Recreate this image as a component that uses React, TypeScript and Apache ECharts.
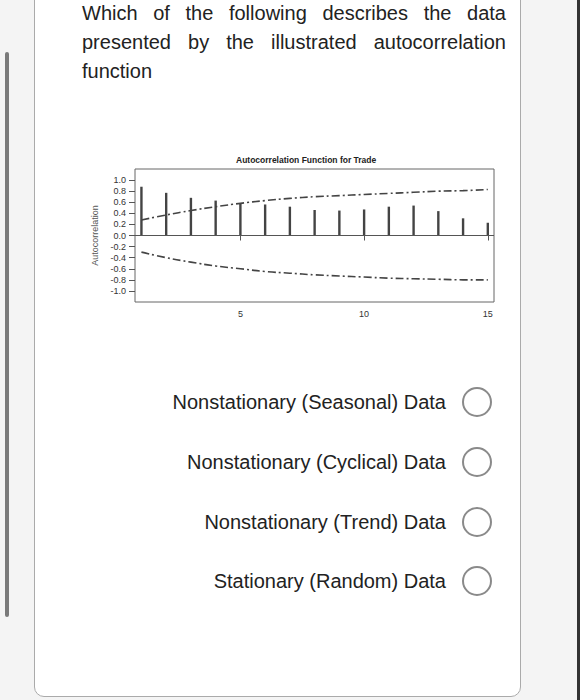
import React from 'react';
import * as echarts from 'echarts';

// lags 1..15
const lags = [1, 2, 3, 4, 5, 6, 7, 8, 9, 10, 11, 12, 13, 14, 15];
const acf = [0.88, 0.77, 0.68, 0.63, 0.58, 0.56, 0.52, 0.46, 0.45, 0.47, 0.52, 0.54, 0.44, 0.31, 0.23];
const upperLimit = [0.28, 0.37, 0.45, 0.52, 0.58, 0.63, 0.67, 0.7, 0.72, 0.74, 0.76, 0.78, 0.8, 0.81, 0.83];
const lowerLimit = [-0.3, -0.4, -0.48, -0.55, -0.6, -0.65, -0.68, -0.71, -0.73, -0.75, -0.77, -0.78, -0.79, -0.8, -0.8];
const yTicks = [-1, -0.8, -0.6, -0.4, -0.2, 0, 0.2, 0.4, 0.6, 0.8, 1];
const xTicks = [5, 10, 15];

const question = 'Which of the following describes the data presented by the illustrated autocorrelation function';
const choices = [
  'Nonstationary (Seasonal) Data',
  'Nonstationary (Cyclical) Data',
  'Nonstationary (Trend) Data',
  'Stationary (Random) Data',
];

const font = '"Liberation Sans", Arial, Helvetica, sans-serif';

const AcfChart = () => {
  const chartRef = React.useRef(null);

  React.useEffect(() => {
    const myChart = echarts.init(chartRef.current, null, { renderer: 'svg' });
    const dash = [8, 3, 2, 3];
    myChart.setOption({
      animation: false,
      textStyle: { fontFamily: font },
      title: {
        text: 'Autocorrelation Function for Trade',
        left: 156,
        top: 10,
        padding: 0,
        textStyle: { fontSize: 8.5, fontWeight: 'bold', color: '#222' },
      },
      grid: {
        left: 55,
        right: 6,
        top: 24,
        bottom: 23,
        show: true,
        borderColor: '#666',
        borderWidth: 1,
      },
      xAxis: {
        type: 'value',
        min: 0.74,
        max: 15.25,
        splitLine: { show: false },
        axisLine: { show: false },
        axisTick: { show: true, length: 5, customValues: xTicks, lineStyle: { color: '#555' } },
        axisLabel: { customValues: xTicks, fontSize: 9, color: '#333', margin: 7 },
      },
      yAxis: {
        type: 'value',
        min: -1.2,
        max: 1.2,
        name: 'Autocorrelation',
        nameLocation: 'middle',
        nameGap: 36,
        nameTextStyle: { fontSize: 9, color: '#555' },
        splitLine: { show: false },
        axisLine: { show: false },
        axisTick: { show: true, length: 6, customValues: yTicks, lineStyle: { color: '#555' } },
        axisLabel: {
          customValues: yTicks,
          fontSize: 9,
          color: '#333',
          margin: 9,
          formatter: (v: number) => v.toFixed(1),
        },
      },
      series: [
        {
          type: 'bar',
          data: lags.map((l, i) => [l, acf[i]]),
          barWidth: 2.4,
          itemStyle: { color: '#444' },
          markLine: {
            silent: true,
            symbol: 'none',
            label: { show: false },
            lineStyle: { color: '#555', width: 1, type: 'solid' },
            data: [{ yAxis: 0 }],
          },
        },
        {
          type: 'line',
          data: lags.map((l, i) => [l, upperLimit[i]]),
          smooth: true,
          showSymbol: false,
          lineStyle: { color: '#444', width: 1.6, type: dash },
        },
        {
          type: 'line',
          data: lags.map((l, i) => [l, lowerLimit[i]]),
          smooth: true,
          showSymbol: false,
          lineStyle: { color: '#444', width: 1.6, type: dash },
        },
      ],
    });

    return () => {
      myChart.dispose();
    };
  }, []);

  return (
    <div
      ref={chartRef}
      style={{ position: 'absolute', left: 80, top: 145, width: 420, height: 180 }}
    />
  );
};

const App = () => {
  const centers = [402, 462, 521.5, 581];
  return (
    <div
      style={{
        position: 'fixed',
        left: 0,
        top: 0,
        width: 580,
        height: 700,
        overflow: 'hidden',
        background: '#f4f4f4',
        fontFamily: font,
      }}
    >
      <div
        style={{ position: 'absolute', left: 5, top: 52, width: 4, height: 565, borderRadius: 2, background: '#7a7a7a' }}
      />
      <div style={{ position: 'absolute', left: 577, top: 0, width: 3, height: 700, background: '#333' }} />
      <div
        style={{
          position: 'absolute',
          left: 34,
          top: -20,
          width: 487,
          height: 717,
          boxSizing: 'border-box',
          border: '1.5px solid #aaa',
          borderRadius: 10,
          background: '#fff',
        }}
      />
      <div
        style={{
          position: 'absolute',
          left: 82,
          top: -1,
          width: 424,
          fontSize: 20,
          lineHeight: '29px',
          textAlign: 'justify',
          color: '#222',
        }}
      >
        {question}
      </div>
      <AcfChart />
      {choices.map((c, i) => (
        <React.Fragment key={c}>
          <div
            style={{
              position: 'absolute',
              left: 0,
              width: 446,
              top: centers[i] - 15,
              height: 30,
              lineHeight: '30px',
              fontSize: 20,
              textAlign: 'right',
              color: '#222',
              whiteSpace: 'nowrap',
            }}
          >
            {c}
          </div>
          <div
            style={{
              position: 'absolute',
              left: 462,
              top: centers[i] - 15,
              width: 30,
              height: 30,
              boxSizing: 'border-box',
              border: '2px solid #8a8a8a',
              borderRadius: '50%',
              background: '#fff',
            }}
          />
        </React.Fragment>
      ))}
    </div>
  );
};

export default App;
